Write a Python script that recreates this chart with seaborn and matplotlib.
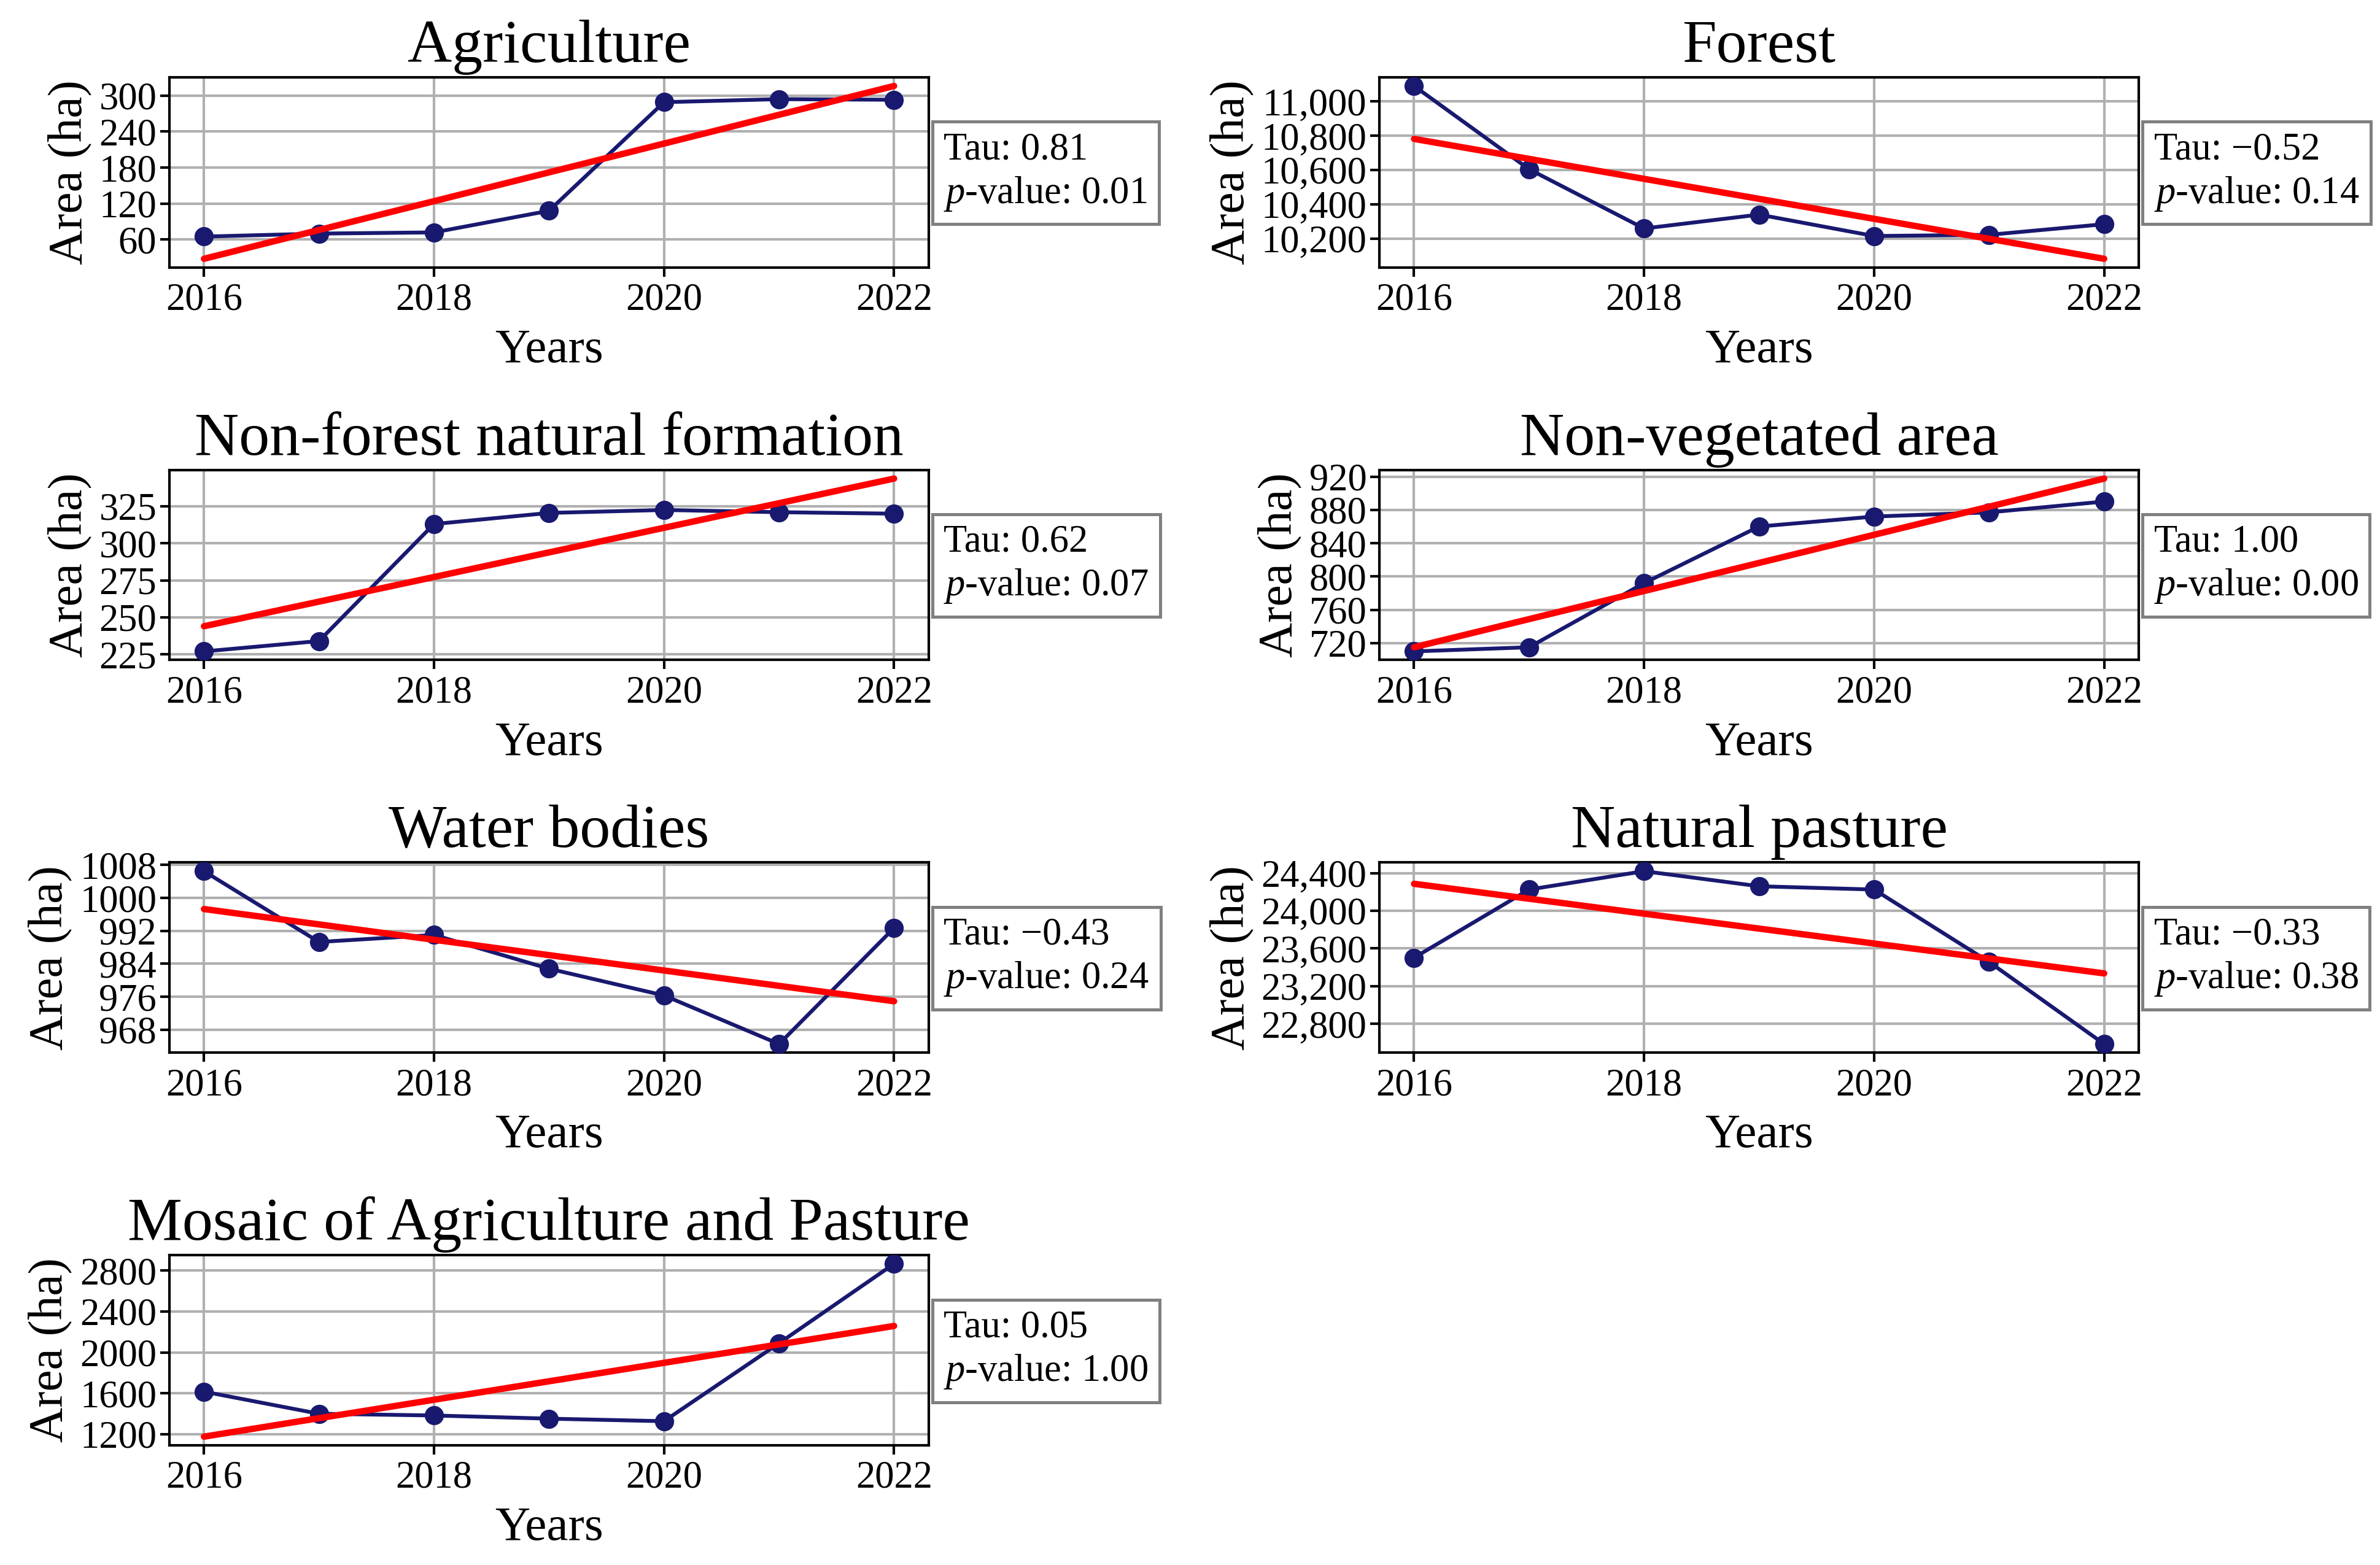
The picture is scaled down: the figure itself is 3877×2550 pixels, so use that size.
import matplotlib
matplotlib.use("Agg")
import matplotlib.pyplot as plt
import matplotlib.ticker as mticker
import seaborn as sns
import pandas as pd

# ---------------- data ----------------
years = [2016, 2017, 2018, 2019, 2020, 2021, 2022]

titles = ["Agriculture", "Forest", "Non-forest natural formation",
          "Non-vegetated area", "Water bodies", "Natural pasture",
          "Mosaic of Agriculture and Pasture"]

agriculture = [65, 70, 72, 108, 289, 294, 293]
forest = [11091, 10605, 10259, 10340, 10215, 10222, 10284]
non_forest = [227, 234, 313, 320.5, 322.5, 321, 320]
non_vegetated = [710, 715, 792, 860, 872, 877, 890]
water_bodies = [1006.5, 989.3, 991.0, 982.8, 976.3, 964.5, 992.7]
natural_pasture = [23502, 24226, 24421, 24261, 24226, 23457, 22586]
mosaic = [1616, 1400, 1383, 1352, 1327, 2090, 2867]

# Sen's slope trend line values at first and last year
trend_start = [28, 10782, 244, 715, 997.3, 24287, 1176]
trend_end = [316, 10082, 343.7, 917.6, 974.9, 23336, 2259]

tau_values = ["0.81", "\u22120.52", "0.62", "1.00", "\u22120.43", "\u22120.33", "0.05"]
p_values = ["0.01", "0.14", "0.07", "0.00", "0.24", "0.38", "1.00"]

agri_ticks = [60, 120, 180, 240, 300]
forest_ticks = [10200, 10400, 10600, 10800, 11000]
non_forest_ticks = [225, 250, 275, 300, 325]
non_veg_ticks = [720, 760, 800, 840, 880, 920]
water_ticks = [968, 976, 984, 992, 1000, 1008]
pasture_ticks = [22800, 23200, 23600, 24000, 24400]
mosaic_ticks = [1200, 1600, 2000, 2400, 2800]
use_commas = [False, True, False, False, False, True, False]

x_ticks = [2016, 2018, 2020, 2022]

series = [agriculture, forest, non_forest, non_vegetated, water_bodies,
          natural_pasture, mosaic]
y_ticks = [agri_ticks, forest_ticks, non_forest_ticks, non_veg_ticks,
           water_ticks, pasture_ticks, mosaic_ticks]

# ---------------- style ----------------
sns.set_theme(style="whitegrid", rc={
    "axes.edgecolor": "black",
    "axes.linewidth": 1.0,
    "grid.color": "#b0b0b0",
    "grid.linewidth": 1.0,
    "xtick.bottom": True,
    "ytick.left": True,
    "xtick.color": "black",
    "ytick.color": "black",
    "xtick.major.size": 3.5,
    "ytick.major.size": 3.5,
    "xtick.major.width": 1.0,
    "ytick.major.width": 1.0,
    "axes.labelcolor": "black",
    "text.color": "black",
})
plt.rcParams["font.family"] = ["Liberation Serif", "DejaVu Serif"]
plt.rcParams["mathtext.fontset"] = "custom"
plt.rcParams["mathtext.rm"] = "Liberation Serif"
plt.rcParams["mathtext.it"] = "Liberation Serif:italic"

fig, axes = plt.subplots(4, 2, figsize=(3877 / 300, 2550 / 300), dpi=300)
fig.subplots_adjust(left=0.0712, right=0.8986, top=0.9506, bottom=0.0765,
                    wspace=0.594, hspace=1.065)
flat = axes.flatten()

for i, ax in enumerate(flat[:7]):
    df = pd.DataFrame({"Years": years, "Area": series[i]})
    sns.lineplot(data=df, x="Years", y="Area", ax=ax, color="midnightblue",
                 marker="o", markersize=7.5, markeredgewidth=0,
                 linewidth=1.5, zorder=3)
    tdf = pd.DataFrame({"Years": [years[0], years[-1]],
                        "Trend": [trend_start[i], trend_end[i]]})
    sns.lineplot(data=tdf, x="Years", y="Trend", ax=ax, color="red",
                 linewidth=2.5, zorder=4)
    ax.set_title(titles[i], fontsize=24, pad=6)
    ax.set_xlabel("Years", fontsize=19, labelpad=4)
    ax.set_ylabel("Area (ha)", fontsize=19, labelpad=3)
    ax.set_xticks(x_ticks)
    ax.set_yticks(y_ticks[i])
    ax.margins(x=0.05, y=0.05)
    if use_commas[i]:
        ax.yaxis.set_major_formatter(mticker.StrMethodFormatter("{x:,.0f}"))
    else:
        ax.yaxis.set_major_formatter(mticker.StrMethodFormatter("{x:.0f}"))
    ax.tick_params(axis="both", labelsize=15, pad=2.5)
    ax.tick_params(axis="y", pad=1.5)
    ax.grid(True, color="#b0b0b0", linewidth=1.0)
    for s in ax.spines.values():
        s.set_color("black")
        s.set_linewidth(1.0)
    ax.text(1.02, 0.5, f"Tau: {tau_values[i]}\n$p$-value: {p_values[i]}",
            transform=ax.transAxes, ha="left", va="center", fontsize=15,
            linespacing=1.25,
            bbox=dict(boxstyle="square,pad=0.3", facecolor="white",
                      edgecolor="gray", linewidth=1.2))

flat[7].remove()

fig.savefig("out.png", dpi=300)
